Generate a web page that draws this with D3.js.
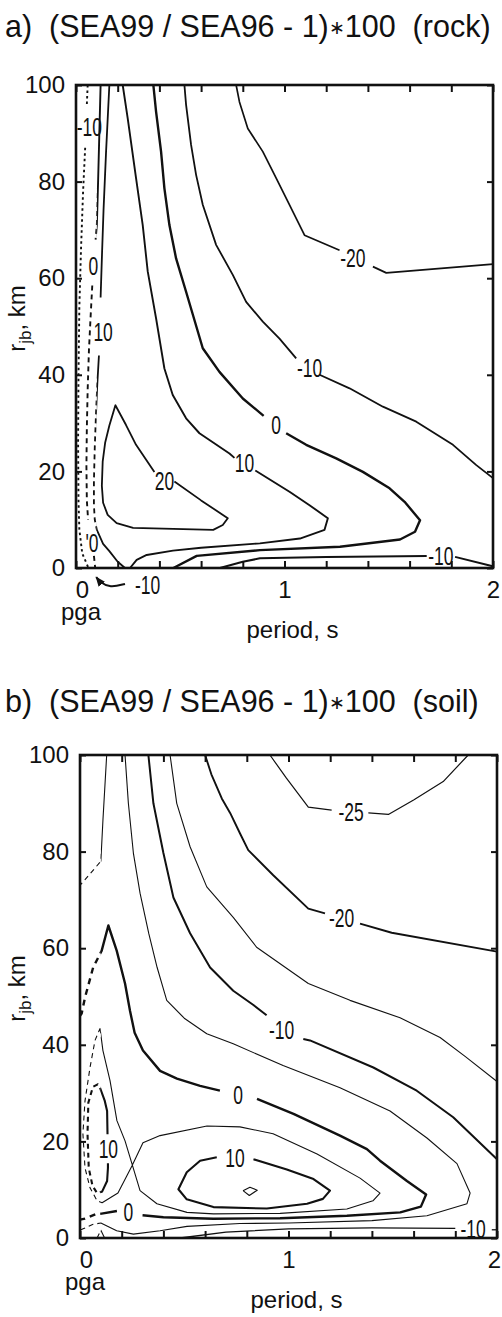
<!DOCTYPE html>
<html><head><meta charset="utf-8">
<script src="https://cdn.jsdelivr.net/npm/d3@7"></script>
<style>
body{margin:0;background:#fff;}
svg{display:block;}
text{fill:#111;}
</style></head><body>
<svg id="chart" width="502" height="1317"></svg>
<script>
// ---------- axis data ----------
const periodTicks = [0,0.2,0.4,0.6,0.8,1,1.2,1.4,1.6,1.8,2];
const periodLabels = [0,1,2];
const distTicks = [0,20,40,60,80,100];
const dashLimit = 0.1; // below this period contours are drawn dashed (pga .. 0.1 s)

// ---------- panel a (rock): contour polylines [period s, rjb km] ----------
const rockM20 = [
 [[0.768,100],[0.784,96.5],[0.824,91],[0.896,86.2],[0.96,80.7],[1.024,75.2],[1.096,68.9],[1.264,65.8]],
 [[1.424,62.4],[1.488,61.1],[2.0,62.9]]];
const rockM10 = [
 [[0.52,100],[0.528,95.9],[0.552,87.6],[0.576,81.4],[0.608,75.2],[0.672,66.9],[0.752,60.7],[0.816,55.1],[0.896,51],[0.976,47.5],[1.056,43.4]],
 [[1.168,40],[1.312,37.2],[1.472,33.4],[1.632,30.3],[1.808,25.5],[1.92,21.3],[2.0,18.6]]];
const rockZero = [
 [[0.371,100],[0.384,94.5],[0.408,86.2],[0.424,78.6],[0.448,71],[0.48,64.1],[0.528,57.2],[0.608,45.5],[0.688,40.6],[0.8,35.1],[0.9,31.5]],
 [[1.008,27.9],[1.104,25.5],[1.248,22.7],[1.376,19.9],[1.504,16.5],[1.576,13.7],[1.65,9.9],[1.626,7.5],[1.554,5.9],[1.266,4.4],[0.882,3.7],[0.579,2.5],[0.467,0]]];
const rockP10 = [
 [[0.224,100],[0.248,93.1],[0.288,80.7],[0.32,71],[0.344,61.4],[0.384,51.7],[0.424,41.3],[0.464,35.8],[0.528,31],[0.592,27.9],[0.736,23.7],[0.76,22.8]],
 [[0.86,20.2],[1.024,15.8],[1.12,13],[1.208,10.3],[1.192,7.9],[1.074,6.1],[0.882,5.1],[0.6,4.2],[0.465,3.6],[0.339,2.7],[0.291,1.7],[0.259,0]]];
const rockP20 = [
 [[0.376,19.9],[0.288,25.5],[0.24,29.6],[0.189,33.7],[0.16,29.5],[0.14,26],[0.128,22],[0.124,17],[0.13,13.5],[0.152,11],[0.195,9.3],[0.274,8.3],[0.658,7.9],[0.704,8.9],[0.728,10.3],[0.6,14],[0.472,17.9]]];
const rockLeftM10 = [
 [[0.056,100],[0.052,96]],
 [[0.044,87],[0.034,78],[0.024,66],[0.016,54],[0.012,40],[0.01,26],[0.012,14],[0.016,8],[0.03,3],[0.06,0]]];
const rockLeftZero = [
 [[0.118,100],[0.112,90],[0.106,80],[0.1,71],[0.094,68]],
 [[0.078,58.5],[0.07,52],[0.062,45],[0.056,37],[0.052,29],[0.05,21],[0.052,14],[0.058,10]],
 [[0.086,2.5],[0.092,0]]];
const rockLeftP10 = [
 [[0.16,100],[0.152,93],[0.144,86],[0.132,74],[0.124,64],[0.118,56]],
 [[0.11,44],[0.102,38],[0.096,32],[0.09,25],[0.086,18],[0.086,13],[0.09,10],[0.1,7.9],[0.13,5],[0.16,3.5],[0.2,1.3],[0.235,0]]];
const rockBottomM10 = [
 [[0.69,0],[0.8,1.3],[0.882,2.0],[1.2,2.3],[1.682,2.5]],
 [[1.818,2.3],[1.994,0.4],[2,0]]];
const rockLabels = [["-20",1.328,64.1],["-10",1.12,41.3],["0",0.96,29.6],["10",0.808,21.7],["20",0.424,17.9],
 ["-10",1.75,2.5],["-10",0.064,91.2],["0",0.083,62.4],["10",0.13,48.7],["'0",0.077,5.2],["-10",0.343,-3.5]];
const rockArrow = [[0.235,-3.3],[0.163,-4.1],[0.115,-2.9],[0.097,-1.9]];

// ---------- panel b (soil) ----------
const soilM25 = [
 [[0.911,100],[0.99,95.2],[1.095,89.2],[1.207,88.6]],
 [[1.383,88.0],[1.479,87.7],[1.6,90.7],[1.742,94.5],[1.862,100]]];
const soilM20 = [
 [[0.6,100],[0.63,96],[0.68,91],[0.72,88],[0.767,83.8],[0.807,80.3],[0.927,75.1],[1.095,68.2],[1.175,67.2]],
 [[1.343,65.1],[1.495,63.2],[2.0,59.3]]];
const soilM15 = [
 [[0.432,100],[0.464,90],[0.528,81],[0.608,72.7],[0.735,66.4],[0.847,60.2],[1.095,52.7],[1.295,49.2],[1.535,45.6],[1.727,41.5],[1.85,37.5],[2.0,32.4]]];
const soilM10 = [
 [[0.328,100],[0.352,90],[0.4,79.7],[0.448,70.5],[0.528,63.1],[0.624,56],[0.735,51.2],[0.83,48.3],[0.895,46.1]],
 [[1.071,41.2],[1.103,40.9],[1.407,35.3],[1.615,30.5],[1.79,25],[2.0,16.3]]];
const soilM5 = [
 [[0.216,100],[0.232,90],[0.256,79.7],[0.288,71.4],[0.33,63],[0.37,56],[0.416,49.2],[0.5,45.5],[0.608,42.3],[0.735,40.2],[0.974,35.7],[1.247,31.1],[1.487,26.3],[1.664,20.7],[1.808,15.4],[1.871,9.3],[1.856,7.1],[1.664,4.6],[1.4,3.6],[1.0,3.1],[0.767,3.0],[0.513,2.4],[0.384,1.5],[0.256,0.8],[0.176,1.5],[0.1,3.1],[0.06,2.8],[0.015,1.9],[0,1.6]]];
const soilM5b = [
 [[0.128,100],[0.11,86.5],[0.1,78],[0.096,77.8],[0.05,75.5],[0.008,73.4],[0,73]]];
const soilZero = [
 [[0,46],[0.008,46.5],[0.024,49.8],[0.063,56],[0.104,59.5],[0.136,64.7],[0.176,59.5],[0.216,52.7],[0.24,47],[0.262,42.5],[0.302,38.8],[0.384,34.6],[0.465,33],[0.576,31.5],[0.671,30.5]],
 [[0.849,28.8],[1.024,25.7],[1.247,21.2],[1.376,18.4],[1.439,16],[1.568,11.8],[1.66,9],[1.635,6.5],[1.536,5.3],[1.28,4.6],[0.96,4.1],[0.64,4.0],[0.4,4.3],[0.3,4.7]],
 [[0.177,5.6],[0.096,5.0],[0.08,5.0],[0.024,4.0],[0,3.8]]];
const soilP5 = [
 [[0.096,43.4],[0.11,38.8],[0.144,32.6],[0.177,24.3],[0.216,20.1],[0.249,15.4],[0.288,9.8],[0.369,7.1],[0.513,5.3],[0.64,5.0],[0.96,5.1],[1.28,6.0],[1.405,7.7],[1.439,9.3],[1.343,12.4],[1.137,17.4],[0.926,21.6],[0.767,23.0],[0.609,23.2],[0.384,21.2],[0.302,19.7],[0.249,14.9],[0.182,9.3],[0.106,7.3],[0.082,7.7],[0.048,10.4],[0.024,14.5],[0.014,21.6],[0.024,28.4],[0.048,35.3],[0.072,40.9],[0.096,43.4]]];
const soilP10a = [
 [[0.134,15.5],[0.134,14.5],[0.13,11.8],[0.106,9.6],[0.082,9.3],[0.06,10.8],[0.042,14.5],[0.036,21.6],[0.04,28],[0.062,31.3],[0.085,31.8],[0.096,31.1],[0.118,28.5],[0.13,26.3],[0.132,21.5]]];
const soilP10b = [
 [[0.832,16.3],[0.992,14.2],[1.12,12.2],[1.199,9.8],[1.165,8.1],[1.089,7.1],[0.896,6.1],[0.64,6.4],[0.512,8.0],[0.472,10.1],[0.512,13.6],[0.576,16.0],[0.656,16.7]]];
const soilP15 = [[[0.782,9.8],[0.815,10.5],[0.85,9.9],[0.812,8.8],[0.782,9.8]]];
const soilM10b = [
 [[0.48,0],[0.7,1.2],[1.0,1.9],[1.4,2.1],[1.8,2.0]],
 [[1.975,1.7],[2.0,1.7]]];
const soilSpike = [[[0.082,0],[0.1,1.6],[0.118,0]]];
const soilLabels = [["-25",1.3,88.1],["-20",1.255,66.1],["-10",0.967,42.9],["0",0.758,29.5],["10",0.743,16.6],
 ["10",0.136,18.4],["0",0.232,5.3],["-10",1.885,1.9]];

// ---------- drawing ----------
const svg = d3.select("#chart");
const W = 417, H = 483;
const x = d3.scaleLinear().domain([0,2]).range([0,W]);
const y = d3.scaleLinear().domain([0,100]).range([H,0]);
const line = d3.line().x(d=>x(d[0])).y(d=>y(d[1]));
const defs = svg.append("defs");
defs.append("marker").attr("id","ah").attr("viewBox","0 0 10 10").attr("refX",9).attr("refY",5)
  .attr("markerWidth",5).attr("markerHeight",5).attr("orient","auto-start-reverse")
  .append("path").attr("d","M0,1 L10,5 L0,9 Z").attr("fill","#111");

const mainFont = "'Liberation Sans', Arial, Helvetica, sans-serif";
const labFont = "'Liberation Sans Narrow', 'Liberation Sans', Arial, sans-serif";

function drawPanel(o){
  const t = svg.append("text").attr("x",5).attr("y",o.titleY).style("white-space","pre")
    .attr("font-family",mainFont).attr("font-size",30.5);
  t.append("tspan").text(o.title[0]);
  t.append("tspan").attr("font-size",19).attr("dy",-3).text("\u2217");
  t.append("tspan").attr("dy",3).text(o.title[1]);

  const g = svg.append("g").attr("transform",`translate(${o.ox},${o.oy})`);
  const cut = x(dashLimit);
  defs.append("clipPath").attr("id",o.id+"S").append("rect").attr("x",cut).attr("y",-3).attr("width",W-cut+3).attr("height",H+6);
  defs.append("clipPath").attr("id",o.id+"D").append("rect").attr("x",-3).attr("y",-3).attr("width",cut+3).attr("height",H+6);
  const gs = g.append("g").attr("clip-path",`url(#${o.id}S)`);
  const gd = g.append("g").attr("clip-path",`url(#${o.id}D)`);
  o.contours.forEach(c=>{
    c.segs.forEach(s=>{
      gs.append("path").attr("d",line(s)).attr("fill","none").attr("stroke","#111")
        .attr("stroke-width",c.w).attr("stroke-linejoin","round").attr("stroke-linecap","butt");
      gd.append("path").attr("d",line(s)).attr("fill","none").attr("stroke","#111")
        .attr("stroke-width",c.w).attr("stroke-dasharray",c.dash||"5,4");
    });
  });

  // contour labels
  o.labels.forEach(l=>{
    g.append("text").attr("transform",`translate(${x(l[1])},${y(l[2])}) scale(0.7,1)`)
      .attr("text-anchor","middle").attr("dominant-baseline","central")
      .attr("font-family",labFont).attr("font-size",25).text(l[0]);
  });
  if(o.arrow){
    g.append("path").attr("d",d3.line().curve(d3.curveBasis).x(d=>x(d[0])).y(d=>y(d[1]))(o.arrow))
      .attr("fill","none").attr("stroke","#111").attr("stroke-width",2).attr("marker-end","url(#ah)");
  }

  // axes (ticks inward)
  const styleAxis = a => {
    a.select(".domain").remove();
    a.selectAll(".tick line").attr("stroke","#111").attr("stroke-width",2);
    a.selectAll("text").attr("font-family",mainFont).attr("font-size",24).attr("fill","#111");
  };
  const bx = g.append("g").attr("transform",`translate(0,${H})`)
    .call(d3.axisBottom(x).tickValues(periodTicks).tickSize(-7).tickSizeOuter(0).tickPadding(13)
      .tickFormat(d=>periodLabels.includes(d)?d3.format("d")(d):""));
  styleAxis(bx);
  bx.selectAll(".tick text").filter(d=>d===0).attr("x",6);
  bx.selectAll(".tick text").filter(d=>d===2).attr("x",o.twoShift);
  g.append("g").call(d3.axisTop(x).tickValues(periodTicks).tickSize(-7).tickSizeOuter(0).tickFormat(""))
    .call(styleAxis);
  g.append("g").call(d3.axisLeft(y).tickValues(distTicks).tickSize(-6).tickSizeOuter(0).tickPadding(11))
    .call(styleAxis);
  g.append("g").attr("transform",`translate(${W},0)`)
    .call(d3.axisRight(y).tickValues(distTicks).tickSize(-6).tickSizeOuter(0).tickFormat(""))
    .call(styleAxis);
  g.append("rect").attr("width",W).attr("height",H).attr("fill","none").attr("stroke","#111").attr("stroke-width",2.6);

  g.append("text").attr("x",5).attr("y",H+52).attr("text-anchor","middle")
    .attr("font-family",mainFont).attr("font-size",24).text("pga");
  g.append("text").attr("x",x(1)+8).attr("y",H+70).attr("text-anchor","middle")
    .attr("font-family",mainFont).attr("font-size",24).text("period, s");

  const yt = svg.append("text").attr("transform",`translate(25,${o.oy+H/2-8}) rotate(-90)`)
    .attr("text-anchor","middle").attr("font-family",mainFont).attr("font-size",24);
  yt.append("tspan").text("r");
  yt.append("tspan").attr("font-size",17).attr("dy",6).text("jb");
  yt.append("tspan").attr("dy",-6).text(", km");
}

drawPanel({id:"rock", ox:76, oy:85, titleY:37, twoShift:0, title:["a)  (SEA99 / SEA96 - 1)","100  (rock)"],
  contours:[
    {segs:rockM20,w:1.7},{segs:rockM10,w:1.8},{segs:rockZero,w:2.4},{segs:rockP10,w:1.9},{segs:rockP20,w:1.8},
    {segs:rockLeftM10,w:1.9,dash:"2.5,3"},{segs:rockLeftZero,w:1.9},{segs:rockLeftP10,w:1.8},{segs:rockBottomM10,w:2.0}],
  labels:rockLabels, arrow:rockArrow});

drawPanel({id:"soil", ox:80, oy:755, titleY:712, twoShift:-3, title:["b)  (SEA99 / SEA96 - 1)","100  (soil)"],
  contours:[
    {segs:soilM25,w:1.2},{segs:soilM20,w:1.9},{segs:soilM15,w:1.1},{segs:soilM10,w:2.0},{segs:soilM5,w:1.1},
    {segs:soilM5b,w:1.1},{segs:soilZero,w:2.4,dash:"6,5"},{segs:soilP5,w:1.1},{segs:soilP10a,w:2.1},{segs:soilP10b,w:2.1},
    {segs:soilP15,w:1.1},{segs:soilM10b,w:1.3},{segs:soilSpike,w:1.1}],
  labels:soilLabels});
</script></body></html>
